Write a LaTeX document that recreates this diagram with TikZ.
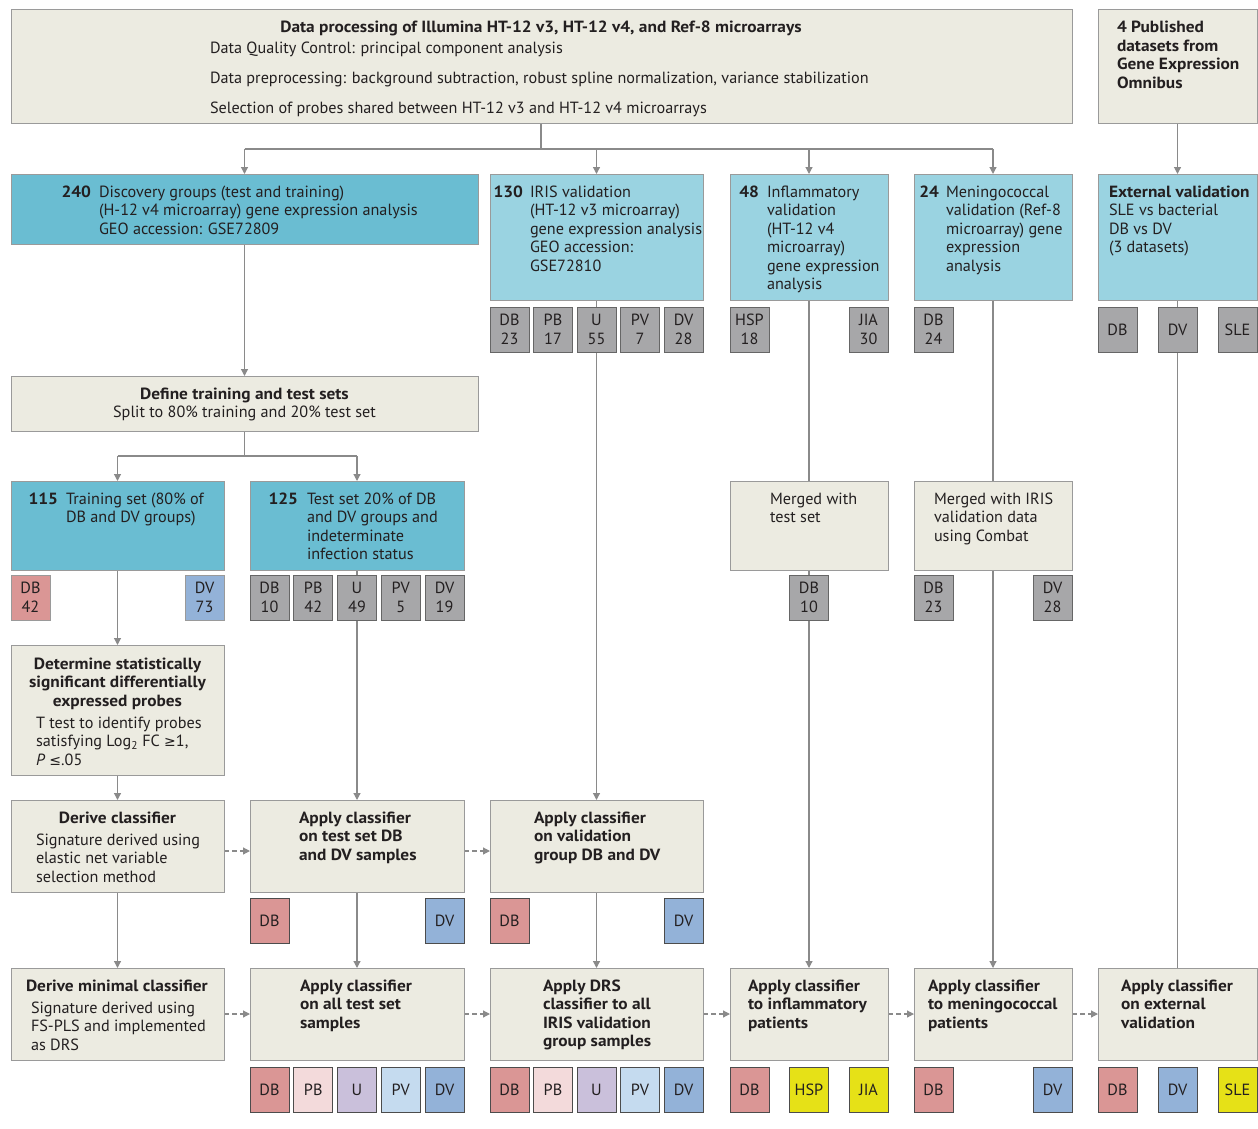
\documentclass[tikz,border=0pt]{standalone}
\usepackage{fontspec}
\setmainfont[BoldFeatures={FakeStretch=1.07}]{PT Sans}
\newfontfamily\symf{DejaVu Sans}
\usetikzlibrary{arrows.meta,backgrounds}
\definecolor{beige}{HTML}{ECEBE1}
\definecolor{teal}{HTML}{6ABDD2}
\definecolor{lblue}{HTML}{9AD3E1}
\definecolor{gsam}{HTML}{A7A7A9}
\definecolor{rsam}{HTML}{DA9695}
\definecolor{psam}{HTML}{F3DADB}
\definecolor{usam}{HTML}{CAC0DB}
\definecolor{vsam}{HTML}{C5DBEF}
\definecolor{bsam}{HTML}{93B2D8}
\definecolor{ysam}{HTML}{E6E117}
\definecolor{bord}{HTML}{9A9A9A}
\definecolor{lncol}{HTML}{8A8A8A}
\definecolor{tcol}{HTML}{231F20}
\newcommand\bx[6]{\node[box,fill=#6,minimum width={(#4-#2)*1pt},minimum height={(#5-#3)*1pt}] (#1) at ({(#2+#4)/2},{(#3+#5)/2}) {};}
\newcommand\sm[5]{\node[sam,#4] (#1) at ({#2+19.5},{#3+22.5}) {#5};}
\newcommand\tx[4]{\node[txt,anchor=base west] (#1) at (#2,#3) {\begin{tabular}[t]{@{}l@{}}#4\end{tabular}};}
\newcommand\txc[4]{\node[txt,anchor=base] (#1) at (#2,#3) {\begin{tabular}[t]{@{}c@{}}#4\end{tabular}};}
\newcommand\num[4]{\node[txt,anchor=base east,font=\fontsize{16.2}{18.5}\selectfont\bfseries] (#1) at (#2,#3) {#4};}
\newcommand\gsym[1]{{\symf\fontsize{14}{18.5}\selectfont #1}}
\begin{document}
\begin{tikzpicture}[x=1pt,y=-1pt,
  box/.style={draw=bord,line width=1pt,rectangle,inner sep=0pt,outer sep=0pt},
  sam/.style={draw=#1,line width=1pt,rectangle,inner sep=0pt,outer sep=0pt,minimum width=39pt,minimum height=45pt,align=center,text=tcol,font=\fontsize{16.2}{18.5}\selectfont},
  sam/.default={bord},
  g/.style={fill=gsam,draw=gray!80!black},
  r/.style={fill=rsam},
  rd/.style={fill=rsam,draw=black!70},
  pd/.style={fill=psam,draw=black!70},
  ud/.style={fill=usam,draw=black!70},
  vd/.style={fill=vsam,draw=black!70},
  b/.style={fill=bsam},
  bd/.style={fill=bsam,draw=black!70},
  yd/.style={fill=ysam,draw=black!70},
  txt/.style={inner sep=0pt,outer sep=0pt,text=tcol,font=\fontsize{16.2}{18.5}\selectfont},
  ln/.style={draw=lncol,line width=1.2pt},
  arr/.style={ln,-{Triangle[width=7pt,length=7pt]}},
  darr/.style={ln,dash pattern=on 5pt off 3pt,-{Triangle[width=7pt,length=7pt]}}]
\useasboundingbox (0,0) rectangle (1258,1129);
% boxes
\bx{top}{11}{10}{1072}{124}{beige}
\bx{pub}{1098}{10}{1257}{124}{beige}
\bx{disc}{11}{174}{478}{244}{teal}
\bx{iris}{490}{174}{703}{300}{lblue}
\bx{infl}{730}{174}{888}{300}{lblue}
\bx{men}{914}{174}{1072}{300}{lblue}
\bx{ext}{1098}{174}{1257}{300}{lblue}
\bx{define}{11}{376}{478}{431}{beige}
\bx{train}{11}{481}{224}{570}{teal}
\bx{test}{250}{481}{464}{570}{teal}
\bx{merge1}{730}{481}{888}{570}{beige}
\bx{merge2}{914}{481}{1072}{570}{beige}
\bx{determ}{11}{645}{224}{775}{beige}
\bx{derive}{11}{800}{224}{892}{beige}
\bx{aptest}{250}{800}{464}{892}{beige}
\bx{apval}{490}{800}{703}{892}{beige}
\bx{minimal}{11}{968}{224}{1060}{beige}
\bx{apall}{250}{968}{464}{1060}{beige}
\bx{drs}{490}{968}{703}{1060}{beige}
\bx{apinf}{730}{968}{888}{1060}{beige}
\bx{apmen}{914}{968}{1072}{1060}{beige}
\bx{apext}{1098}{968}{1257}{1060}{beige}
% sample boxes row 2
\sm{irDB}{490}{307}{g}{DB\\23}
\sm{irPB}{533.5}{307}{g}{PB\\17}
\sm{irU}{577}{307}{g}{U\\55}
\sm{irPV}{620.5}{307}{g}{PV\\7}
\sm{irDV}{664}{307}{g}{DV\\28}
\sm{inHSP}{730}{307}{g}{HSP\\18}
\sm{inJIA}{849}{307}{g}{JIA\\30}
\sm{meDB}{914}{307}{g}{DB\\24}
\sm{exDB}{1098}{307}{g}{DB}
\sm{exDV}{1158}{307}{g}{DV}
\sm{exSLE}{1218}{307}{g}{SLE}
% row 3
\sm{trDB}{11}{575}{r}{DB\\42}
\sm{trDV}{185}{575}{b}{DV\\73}
\sm{teDB}{250}{575}{g}{DB\\10}
\sm{tePB}{293.75}{575}{g}{PB\\42}
\sm{teU}{337.5}{575}{g}{U\\49}
\sm{tePV}{381.25}{575}{g}{PV\\5}
\sm{teDV}{425}{575}{g}{DV\\19}
\sm{m1DB}{789.5}{575}{g}{DB\\10}
\sm{m2DB}{914}{575}{g}{DB\\23}
\sm{m2DV}{1033}{575}{g}{DV\\28}
% row DB/DV
\sm{atDB}{250}{898}{rd}{DB}
\sm{atDV}{425}{898}{bd}{DV}
\sm{avDB}{490}{898}{rd}{DB}
\sm{avDV}{664}{898}{bd}{DV}
% bottom
\sm{alDB}{250}{1067}{rd}{DB}
\sm{alPB}{293.75}{1067}{pd}{PB}
\sm{alU}{337.5}{1067}{ud}{U}
\sm{alPV}{381.25}{1067}{vd}{PV}
\sm{alDV}{425}{1067}{bd}{DV}
\sm{drDB}{490}{1067}{rd}{DB}
\sm{drPB}{533.5}{1067}{pd}{PB}
\sm{drU}{577}{1067}{ud}{U}
\sm{drPV}{620.5}{1067}{vd}{PV}
\sm{drDV}{664}{1067}{bd}{DV}
\sm{aiDB}{730}{1067}{rd}{DB}
\sm{aiHSP}{789.5}{1067}{yd}{HSP}
\sm{aiJIA}{849}{1067}{yd}{JIA}
\sm{amDB}{914}{1067}{rd}{DB}
\sm{amDV}{1033}{1067}{bd}{DV}
\sm{aeDB}{1098}{1067}{rd}{DB}
\sm{aeDV}{1158}{1067}{bd}{DV}
\sm{aeSLE}{1218}{1067}{yd}{SLE}
% texts
\txc{t0}{541}{33}{\bfseries Data processing of Illumina HT-12 v3, HT-12 v4, and Ref-8 microarrays}
\tx{t1}{210}{53.5}{Data Quality Control: principal component analysis}
\tx{t2}{210}{83.5}{Data preprocessing: background subtraction, robust spline normalization, variance stabilization}
\tx{t3}{210}{113.5}{Selection of probes shared between HT-12 v3 and HT-12 v4 microarrays}
\tx{tpub}{1117}{33}{\bfseries 4 Published\\\bfseries datasets from\\\bfseries Gene Expression\\\bfseries Omnibus}
\num{n240}{91}{197}{240}
\tx{tdisc}{99}{197}{Discovery groups (test and training)\\(H-12 v4 microarray) gene expression analysis\\GEO accession: GSE72809}
\num{n130}{523}{197}{130}
\tx{tiris}{530}{197}{IRIS validation\\(HT-12 v3 microarray)\\gene expression analysis\\GEO accession:\\GSE72810}
\num{n48}{759}{197}{48}
\tx{tinfl}{767}{197}{Inflammatory\\validation\\(HT-12 v4\\microarray)\\gene expression\\analysis}
\num{n24}{939}{197}{24}
\tx{tmen}{946}{197}{Meningococcal\\validation (Ref-8\\microarray) gene\\expression\\analysis}
\tx{text}{1109}{197}{\textbf{External validation}\\SLE vs bacterial\\DB vs DV\\(3 datasets)}
\txc{tdef}{244.5}{399}{\textbf{Define training and test sets}\\Split to 80\% training and 20\% test set}
\num{n115}{58}{504}{115}
\tx{ttrain}{66}{504}{Training set (80\% of\\DB and DV groups)}
\num{n125}{298}{504}{125}
\tx{ttest}{307}{504}{Test set 20\% of DB\\and DV groups and\\indeterminate\\infection status}
\tx{tm1}{770}{504}{Merged with\\test set}
\tx{tm2}{934}{504}{Merged with IRIS\\validation data\\using Combat}
\txc{tdetH}{117.5}{669}{\bfseries Determine statistically\\\bfseries significant differentially\\\bfseries expressed probes}
\tx{tdetT}{36}{728}{T test to identify probes\\satisfying Log\textsubscript{2} FC \gsym{≥}1,\\\textit{P} \gsym{≤}.05}
\txc{tderH}{117.5}{823}{\bfseries Derive classifier}
\tx{tderT}{36}{845}{Signature derived using\\elastic net variable\\selection method}
\tx{tapt}{299}{823}{\bfseries Apply classifier\\\bfseries on test set DB\\\bfseries and DV samples}
\tx{tapv}{534}{823}{\bfseries Apply classifier\\\bfseries on validation\\\bfseries group DB and DV}
\tx{tminH}{26}{991}{\bfseries Derive minimal classifier}
\tx{tminT}{31}{1013}{Signature derived using\\FS-PLS and implemented\\as DRS}
\tx{tapa}{300}{991}{\bfseries Apply classifier\\\bfseries on all test set\\\bfseries samples}
\tx{tdrs}{543}{991}{\bfseries Apply DRS\\\bfseries classifier to all\\\bfseries IRIS validation\\\bfseries group samples}
\tx{tapi}{748}{991}{\bfseries Apply classifier\\\bfseries to inflammatory\\\bfseries patients}
\tx{tapm}{928}{991}{\bfseries Apply classifier\\\bfseries to meningococcal\\\bfseries patients}
\tx{tape}{1121}{991}{\bfseries Apply classifier\\\bfseries on external\\\bfseries validation}
% connectors
\begin{pgfonlayer}{background}
\coordinate (s1) at (541,149);
\coordinate (s2) at (244.5,456);
\draw[ln] (top.south -| s1) -- (s1);
\draw[ln] (disc.north |- s1) -- (men.north |- s1);
\draw[arr] (disc.north |- s1) -- (disc.north);
\draw[arr] (iris.north |- s1) -- (iris.north);
\draw[arr] (infl.north |- s1) -- (infl.north);
\draw[arr] (men.north |- s1) -- (men.north);
\draw[arr] (pub) -- (ext);
\draw[arr] (disc) -- (define);
\draw[ln] (define.south) -- (s2);
\draw[ln] (train.north |- s2) -- (test.north |- s2);
\draw[arr] (train.north |- s2) -- (train.north);
\draw[arr] (test.north |- s2) -- (test.north);
\draw[arr] (train) -- (determ);
\draw[arr] (determ) -- (derive);
\draw[arr] (derive) -- (minimal);
\draw[arr] (test) -- (aptest);
\draw[arr] (aptest) -- (apall);
\draw[arr] (iris) -- (apval);
\draw[arr] (apval) -- (drs);
\draw[arr] (infl) -- (apinf);
\draw[arr] (men) -- (apmen);
\draw[ln] (ext) -- (apext);
\draw[darr] ([yshift=-5pt]derive.east) -- ([yshift=-5pt]aptest.west);
\draw[darr] ([yshift=-5pt]aptest.east) -- ([yshift=-5pt]apval.west);
\draw[darr] (minimal) -- (apall);
\draw[darr] (apall) -- (drs);
\draw[darr] (drs) -- (apinf);
\draw[darr] (apinf) -- (apmen);
\draw[darr] (apmen) -- (apext);
\end{pgfonlayer}
\end{tikzpicture}
\end{document}
